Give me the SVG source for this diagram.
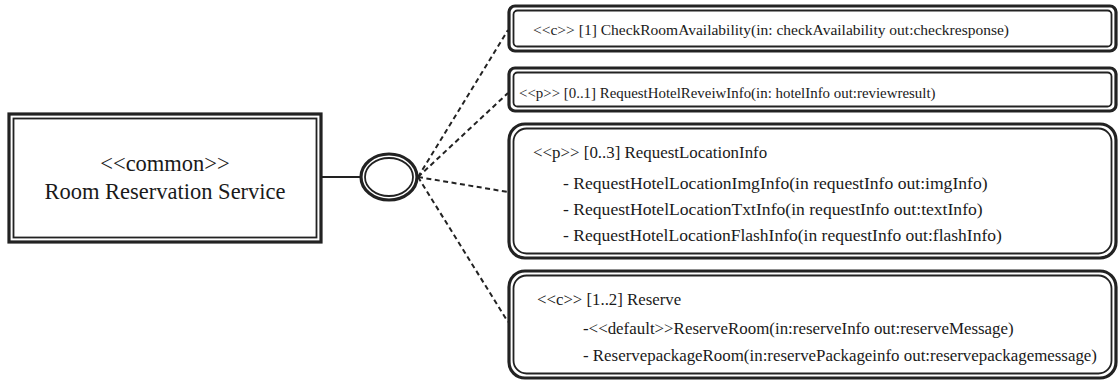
<svg xmlns="http://www.w3.org/2000/svg" width="1119" height="382" viewBox="0 0 1119 382">
<style>
.o{fill:none;stroke:#222;stroke-width:3.2}
.i{fill:none;stroke:#222;stroke-width:1.8}
.t{font-family:"Liberation Serif","Times New Roman",serif;font-size:15.5px;fill:#1a1a1a}
.big{font-family:"Liberation Serif","Times New Roman",serif;font-size:22.5px;fill:#1a1a1a}
.d{fill:none;stroke:#222;stroke-width:2;stroke-dasharray:5 3.5}
</style>
<rect width="1119" height="382" fill="#fff"/>
<g id="service">
<rect class="o" x="9" y="114" width="312" height="128"/>
<rect class="i" x="13.5" y="118.5" width="303" height="119"/>
<text class="big" x="165" y="171" text-anchor="middle">&lt;&lt;common&gt;&gt;</text>
<text class="big" x="165" y="199" text-anchor="middle">Room Reservation Service</text>
</g>
<g id="interface">
<ellipse class="o" cx="389" cy="177" rx="28" ry="23"/>
<ellipse class="i" cx="389" cy="177" rx="24" ry="19"/>
</g>
<g id="connectors">
<line x1="321" y1="177" x2="361" y2="177" stroke="#222" stroke-width="2"/>
<line class="d" x1="418" y1="177" x2="508" y2="30"/>
<line class="d" x1="418" y1="177" x2="508" y2="93"/>
<line class="d" x1="418" y1="177" x2="508" y2="192"/>
<line class="d" x1="418" y1="177" x2="508" y2="322"/>
<circle cx="418" cy="177" r="2" fill="#222"/>
</g>
<g id="op1">
<rect class="o" x="509" y="6" width="607" height="45" rx="6"/>
<rect class="i" x="513.5" y="10.5" width="598" height="36" rx="4"/>
<text class="t" x="533" y="35">&lt;&lt;c&gt;&gt; [1] CheckRoomAvailability(in: checkAvailability out:checkresponse)</text>
</g>
<g id="op2">
<rect class="o" x="509" y="68" width="607" height="43" rx="6"/>
<rect class="i" x="513.5" y="72.5" width="598" height="34" rx="4"/>
<text class="t" x="519" y="98" style="font-size:14.9px">&lt;&lt;p&gt;&gt; [0..1] RequestHotelReveiwInfo(in: hotelInfo out:reviewresult)</text>
</g>
<g id="op3">
<rect class="o" x="509" y="124" width="607" height="134" rx="16"/>
<rect class="i" x="513.5" y="128.5" width="598" height="125" rx="13"/>
<text class="t" x="533" y="158" style="font-size:16.9px">&lt;&lt;p&gt;&gt; [0..3] RequestLocationInfo</text>
<text class="t" x="563" y="189" style="font-size:17.6px">- RequestHotelLocationImgInfo(in requestInfo out:imgInfo)</text>
<text class="t" x="563" y="215" style="font-size:17.6px">- RequestHotelLocationTxtInfo(in requestInfo out:textInfo)</text>
<text class="t" x="563" y="241" style="font-size:17.5px">- RequestHotelLocationFlashInfo(in requestInfo out:flashInfo)</text>
</g>
<g id="op4">
<rect class="o" x="509" y="271" width="607" height="107" rx="16"/>
<rect class="i" x="513.5" y="275.5" width="598" height="98" rx="13"/>
<text class="t" x="537" y="305" style="font-size:16.8px">&lt;&lt;c&gt;&gt; [1..2] Reserve</text>
<text class="t" x="583" y="334" style="font-size:16.9px">-&lt;&lt;default&gt;&gt;ReserveRoom(in:reserveInfo out:reserveMessage)</text>
<text class="t" x="583" y="361" style="font-size:16.9px">- ReservepackageRoom(in:reservePackageinfo out:reservepackagemessage)</text>
</g>
</svg>
